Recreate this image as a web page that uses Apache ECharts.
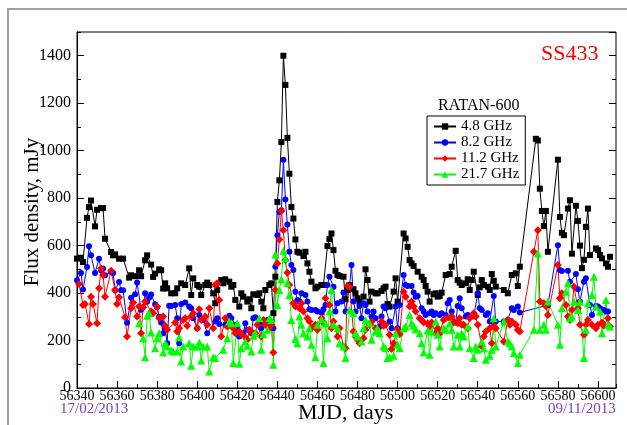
<!DOCTYPE html>
<html>
<head>
<meta charset="utf-8">
<title>SS433 RATAN-600</title>
<script src="https://cdn.jsdelivr.net/npm/echarts@6.0.0/dist/echarts.min.js"></script>
<style>
  html, body { margin: 0; padding: 0; background: #fff; }
  #chart { width: 627px; height: 425px; }
</style>
</head>
<body>
<div id="chart"></div>
<script>
// 4.8 GHz
const days48 = [56340,56342,56343,56345,56346,56347,56349,56350,56352,56353,56354,56357,56358,56359,56361,56363,56366,56367,56369,56371,56372,56374,56375,56377,56378,56379,56381,56382,56383,56384,56385,56387,56389,56390,56392,56394,56396,56397,56398,56400,56401,56402,56404,56405,56406,56408,56409,56410,56412,56413,56414,56416,56417,56418,56419,56421,56422,56423,56425,56426,56427,56428,56430,56431,56432,56433,56434,56436,56437,56438,56439,56440,56441,56442,56443,56444,56445,56446,56447,56448,56449,56450,56451,56453,56454,56455,56456,56457,56459,56460,56462,56463,56465,56466,56467,56468,56469,56470,56471,56473,56474,56475,56476,56478,56479,56480,56481,56483,56484,56485,56486,56487,56489,56490,56492,56493,56494,56495,56496,56498,56499,56500,56503,56504,56505,56506,56507,56508,56510,56512,56513,56514,56515,56516,56518,56519,56520,56521,56522,56524,56526,56527,56529,56530,56531,56532,56534,56535,56536,56537,56538,56540,56541,56542,56543,56545,56546,56547,56548,56549,56553,56555,56557,56559,56560,56561,56569,56570,56571,56572,56573,56574,56575,56580,56581,56582,56583,56585,56586,56587,56589,56590,56591,56592,56593,56594,56595,56596,56599,56600,56601,56602,56604,56605,56606];
const flux48 = [545,549,531,717,762,790,681,751,758,758,629,573,559,563,545,545,465,475,471,496,471,538,559,520,468,482,500,496,419,441,420,399,399,420,441,434,504,392,462,434,427,392,434,444,434,399,357,413,455,441,458,448,427,434,371,343,399,385,364,374,336,395,392,399,364,336,413,434,441,315,469,784,875,1036,1400,1277,1054,903,763,714,626,574,570,556,574,525,490,448,420,427,434,434,598,627,651,581,494,476,472,469,374,413,434,416,399,378,364,385,500,455,364,406,399,399,409,420,427,354,343,406,462,364,651,630,595,539,525,514,490,469,455,430,406,364,395,399,385,388,402,476,480,511,578,455,444,434,441,458,413,455,490,392,424,455,434,427,413,480,452,427,413,399,476,483,430,511,1050,1043,840,746,682,746,574,962,721,654,644,756,791,566,768,704,600,505,540,679,756,560,588,581,560,546,525,511,553];

// 8.2 GHz
const days82 = [56340,56342,56343,56345,56346,56347,56349,56351,56352,56353,56354,56357,56358,56359,56361,56362,56363,56365,56367,56369,56370,56372,56373,56374,56375,56376,56377,56379,56380,56381,56382,56383,56384,56385,56386,56387,56389,56390,56391,56392,56394,56396,56397,56398,56400,56401,56403,56405,56409,56410,56411,56414,56416,56417,56419,56420,56421,56423,56424,56425,56427,56428,56429,56431,56432,56433,56435,56436,56438,56439,56440,56441,56442,56443,56444,56445,56446,56447,56448,56449,56450,56451,56452,56454,56455,56456,56457,56459,56460,56462,56463,56464,56465,56466,56468,56469,56470,56472,56473,56474,56476,56477,56478,56479,56481,56482,56483,56484,56485,56487,56488,56489,56491,56492,56493,56494,56496,56497,56499,56500,56501,56503,56504,56505,56507,56508,56509,56510,56512,56513,56514,56516,56517,56518,56519,56521,56522,56524,56525,56526,56527,56529,56530,56531,56532,56534,56535,56538,56540,56541,56542,56544,56545,56546,56548,56549,56553,56555,56557,56558,56560,56561,56575,56580,56581,56582,56585,56586,56589,56590,56591,56593,56594,56596,56597,56599,56600,56601,56603,56604,56605];
const flux82 = [454,485,415,510,597,559,485,545,496,503,475,489,485,412,447,412,412,275,380,395,444,330,340,399,363,380,394,353,340,300,276,231,250,189,347,346,350,294,189,354,360,343,336,294,252,308,287,231,280,294,270,266,304,294,266,252,217,231,273,245,231,294,298,276,252,276,287,266,252,511,644,742,749,962,794,689,574,518,497,406,371,364,399,392,364,332,329,329,322,318,332,350,434,469,427,322,357,364,402,322,427,518,364,322,346,294,357,350,322,301,322,294,259,301,343,336,280,252,343,252,350,476,434,430,430,402,385,388,336,322,308,315,322,308,315,308,315,308,357,371,322,276,346,378,336,301,308,301,399,336,329,308,315,280,388,280,280,287,336,329,343,318,349,602,497,493,494,448,480,416,364,448,462,350,308,346,343,336,329,322,322];

// 11.2 GHz
const days112 = [56341,56343,56344,56346,56347,56348,56350,56351,56352,56353,56354,56357,56359,56360,56361,56364,56365,56367,56368,56370,56371,56372,56373,56374,56377,56378,56380,56381,56383,56384,56385,56389,56390,56391,56393,56394,56395,56397,56398,56400,56401,56402,56404,56405,56406,56408,56409,56410,56411,56412,56414,56415,56416,56418,56419,56421,56422,56424,56425,56426,56427,56429,56430,56432,56433,56434,56436,56437,56438,56439,56440,56441,56442,56443,56444,56445,56446,56448,56449,56451,56452,56453,56455,56456,56457,56459,56460,56462,56463,56464,56466,56467,56468,56470,56471,56473,56474,56475,56476,56478,56479,56480,56481,56483,56484,56486,56487,56489,56490,56492,56493,56494,56496,56497,56498,56500,56501,56503,56504,56506,56507,56508,56509,56511,56512,56513,56515,56516,56517,56519,56520,56521,56523,56524,56526,56527,56528,56530,56531,56532,56533,56535,56536,56538,56539,56540,56542,56543,56544,56546,56547,56548,56549,56553,56555,56556,56557,56559,56560,56561,56568,56570,56571,56573,56574,56575,56580,56581,56582,56584,56585,56586,56587,56588,56590,56591,56593,56594,56595,56597,56599,56600,56602,56603,56605,56606];
const flux112 = [438,350,354,270,385,354,273,420,504,476,385,494,413,354,382,298,217,336,360,301,343,231,340,364,322,315,343,294,301,262,245,276,238,252,287,294,262,301,315,252,332,287,301,266,336,252,434,441,371,217,294,259,266,252,231,238,227,214,203,245,238,231,266,217,287,266,252,266,150,413,525,626,746,665,539,486,434,357,343,336,357,322,294,280,252,266,245,294,276,378,350,252,280,217,252,175,168,430,427,238,217,203,189,210,245,266,280,252,245,280,262,266,224,164,189,245,227,406,385,343,364,343,322,294,287,276,273,259,276,231,252,231,287,294,294,301,276,273,294,266,266,252,294,315,301,266,175,217,238,252,189,262,252,196,287,266,280,266,245,238,574,665,364,357,346,308,518,378,399,350,301,287,329,427,336,266,224,266,287,266,252,266,276,262,294,259];

// 21.7 GHz
const days217 = [56371,56373,56374,56375,56376,56377,56379,56380,56381,56383,56384,56385,56387,56388,56390,56391,56392,56393,56396,56397,56398,56400,56401,56402,56403,56405,56406,56408,56409,56413,56415,56416,56417,56418,56420,56421,56422,56424,56425,56427,56428,56429,56431,56432,56433,56435,56436,56437,56438,56439,56440,56441,56442,56443,56444,56445,56446,56447,56449,56450,56451,56452,56453,56455,56456,56457,56459,56460,56462,56463,56464,56465,56466,56467,56468,56470,56471,56473,56474,56476,56478,56479,56480,56482,56483,56484,56486,56487,56489,56490,56491,56493,56494,56495,56496,56498,56499,56500,56501,56503,56504,56506,56507,56508,56509,56511,56512,56513,56515,56516,56517,56519,56520,56521,56523,56524,56526,56527,56528,56530,56531,56532,56533,56535,56536,56538,56539,56540,56542,56543,56544,56546,56547,56548,56549,56553,56555,56556,56557,56558,56560,56561,56568,56570,56571,56573,56574,56575,56580,56581,56582,56584,56585,56586,56587,56588,56590,56591,56593,56594,56595,56597,56598,56599,56601,56602,56604,56605,56606];
const flux217 = [273,210,130,304,315,234,168,210,231,150,189,175,158,154,154,214,112,175,189,94,175,175,192,116,175,175,70,130,126,161,210,280,273,105,273,102,168,196,178,154,220,231,294,161,227,245,294,287,98,563,350,413,458,578,546,441,392,287,206,189,301,266,231,217,252,182,130,266,290,105,273,210,322,413,266,252,189,175,126,329,315,231,217,196,252,287,273,203,238,252,231,175,168,126,130,136,231,182,168,252,259,308,273,262,248,231,189,150,242,140,238,280,224,175,252,245,273,245,175,224,175,231,217,259,168,126,175,161,196,168,119,136,161,294,175,280,196,189,175,147,105,140,245,567,245,266,245,364,266,182,336,406,441,294,301,364,329,364,126,245,357,392,469,343,322,231,371,266,259];

const xTicks = { min: 56340, max: 56609, major: 20, minor: 10 };
const yTicks = { min: 0, max: 1500, major: 200, minor: 100 };

const pairs = (xs, ys) => xs.map((x, i) => [x, ys[i]]);

const serif = 'Liberation Serif, Times New Roman, serif';

const chart = echarts.init(document.getElementById('chart'), null, { renderer: 'canvas' });

const makeSeries = (name, xs, ys, color, symbol, size) => ({
    name,
    type: 'line',
    data: pairs(xs, ys),
    symbol,
    symbolSize: size,
    showAllSymbol: true,
    lineStyle: { color, width: 1 },
    itemStyle: { color },
    emphasis: { disabled: true }
})

const tickAxis = (dim, position, interval, len, labels) => {
    const r = dim === 'x' ? xTicks : yTicks
    return {
        type: 'value',
        position,
        min: r.min,
        max: r.max,
        interval,
        splitLine: { show: false },
        axisLine: { show: labels, onZero: false, lineStyle: { color: '#000', width: 1 } },
        axisTick: { show: true, inside: true, length: len, lineStyle: { color: '#000', width: 1 } },
        axisLabel: labels ? {
            show: true,
            color: '#000',
            fontFamily: serif,
            fontSize: dim === 'x' ? 14 : 16,
            margin: dim === 'x' ? 1 : 6,
            showMaxLabel: false,
            formatter: (v) => String(v)
        } : { show: false }
    }
}

const option = {
    animation: false,
    backgroundColor: '#fff',
    grid: {
        left: 77, right: 11, top: 32, bottom: 37,
        show: true, borderColor: '#000', borderWidth: 1,
        containLabel: false
    },
    xAxis: [
        tickAxis('x', 'bottom', xTicks.major, 7, true),
        tickAxis('x', 'bottom', xTicks.minor, 4, false)
    ],
    yAxis: [
        tickAxis('y', 'left', yTicks.major, 7, true),
        tickAxis('y', 'left', yTicks.minor, 4, false),
        tickAxis('y', 'right', yTicks.major, 7, false),
        tickAxis('y', 'right', yTicks.minor, 4, false)
    ],
    legend: {
        orient: 'vertical',
        left: 427,
        top: 116,
        padding: [3, 6, 3, 6],
        itemGap: 1,
        itemWidth: 22,
        itemHeight: 8,
        borderColor: '#000',
        borderWidth: 1,
        backgroundColor: '#fff',
        textStyle: { fontFamily: serif, fontSize: 15, color: '#000' },
        data: ['4.8 GHz', '8.2 GHz', '11.2 GHz', '21.7 GHz']
    },
    graphic: [
        { type: 'rect', silent: true, shape: { x: 8, y: 9, width: 640, height: 440 }, style: { fill: 'none', stroke: '#a0a0a0', lineWidth: 2 } },
        { type: 'text', left: 438, top: 98, style: { text: 'RATAN-600', font: '16px ' + serif, fill: '#000' } },
        { type: 'text', left: 541, top: 43, style: { text: 'SS433', font: '22px ' + serif, fill: '#ff0000' } },
        { type: 'text', left: 60, top: 402, style: { text: '17/02/2013', font: '15px ' + serif, fill: '#8040c0' } },
        { type: 'text', left: 548, top: 402, style: { text: '09/11/2013', font: '15px ' + serif, fill: '#8040c0' } },
        { type: 'text', left: 298, top: 402, style: { text: 'MJD, days', font: '22px ' + serif, fill: '#000' } },
        { type: 'text', x: 32, y: 212, rotation: Math.PI / 2, style: { text: 'Flux density, mJy', font: '21px ' + serif, fill: '#000', align: 'center', verticalAlign: 'middle' } }
    ],
    series: [
        makeSeries('4.8 GHz', days48, flux48, '#000000', 'rect', 6),
        makeSeries('8.2 GHz', days82, flux82, '#0000ff', 'circle', 6),
        makeSeries('11.2 GHz', days112, flux112, '#ff0000', 'diamond', 8),
        makeSeries('21.7 GHz', days217, flux217, '#00ff00', 'triangle', 8)
    ]
}

chart.setOption(option)
</script>
</body>
</html>
